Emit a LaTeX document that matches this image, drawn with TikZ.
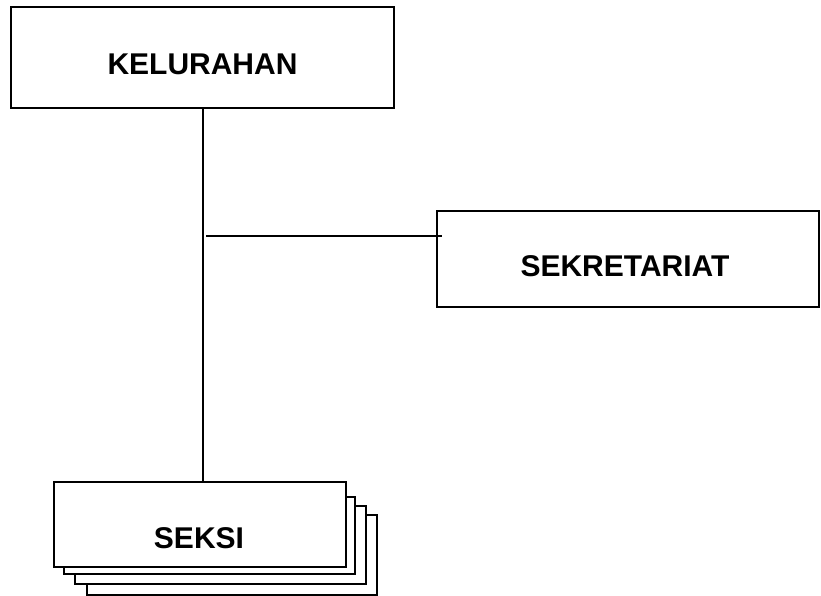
\documentclass[tikz,border=0pt]{standalone}
\usepackage{fontspec}
\setmainfont{Liberation Sans}
\begin{document}
\begin{tikzpicture}[x=1pt,y=-1pt,
  line width=1.6pt,
  unitbox/.style={draw=black, fill=white, rectangle, inner sep=0pt, outer sep=0pt},
  unitlabel/.style={font=\fontsize{30}{36}\selectfont\bfseries, inner sep=0pt, anchor=center},
  link/.style={draw=black, line width=1.8pt}]
  \useasboundingbox (0,0) rectangle (821,596);

  % top unit
  \node[unitbox, minimum width=383pt, minimum height=101pt] (kel) at (202.5,57.5) {};
  \node[unitlabel] (kelText) at (202.5,64) {KELURAHAN};

  % secretariat, hanging off the main line
  \node[unitbox, minimum width=382pt, minimum height=96pt] (sek) at (628,259) {};
  \node[unitlabel] (sekText) at (625,266) {SEKRETARIAT};

  % stacked section boxes, back to front
  \node[unitbox, minimum width=290pt, minimum height=80pt] (seksiD) at (232,555) {};
  \node[unitbox, minimum width=291pt, minimum height=78pt] (seksiC) at (220.5,545) {};
  \node[unitbox, minimum width=291pt, minimum height=77pt] (seksiB) at (209.5,535.5) {};
  \node[unitbox, minimum width=292pt, minimum height=85pt] (seksi) at (200,524.5) {};
  \node[unitlabel] (seksiText) at (199,538) {SEKSI};

  % connectors
  \coordinate (trunkTop) at ([xshift=0.5pt]kel.south);
  \draw[link] (trunkTop) -- (trunkTop |- seksi.north);
  \coordinate (jn) at (206,236);
  \coordinate (hEnd) at (442,236);
  \draw[link] (jn) -- (hEnd);
\end{tikzpicture}
\end{document}
